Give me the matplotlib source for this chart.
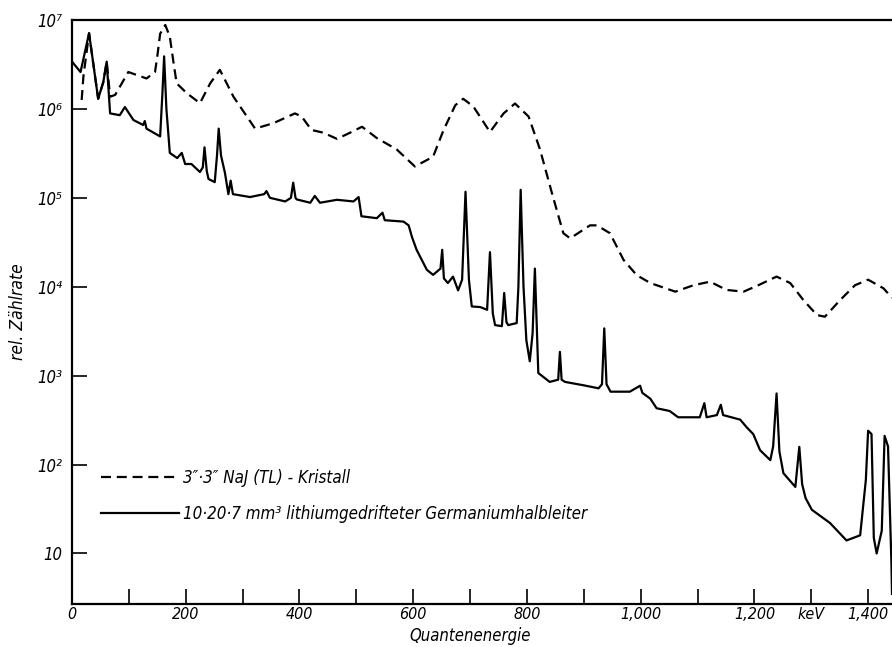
import matplotlib
matplotlib.use("Agg")
import matplotlib.pyplot as plt
from matplotlib.ticker import NullLocator

# ---------------- data ----------------
# Ge(Li) detector spectrum (solid line): energy in keV, relative count rate
ge_energy = [0, 15, 30, 46, 55, 61, 67, 84, 93, 108, 125, 128, 131, 155, 159, 162, 166, 172,
             185, 193, 199, 210, 225, 230, 233, 237, 240, 251, 255, 258, 262, 269, 275, 279, 283,
             313, 338, 342, 348, 375, 385, 389, 393, 395, 419, 427, 436, 466, 495, 504, 509,
             536, 546, 550, 583, 592, 598, 606, 624, 635, 648, 651, 654, 661, 670, 679, 686,
             692, 698, 703, 718, 730, 735, 740, 744, 756, 760, 764, 767, 782, 785, 789, 794,
             799, 805, 810, 814, 818, 820, 840, 855, 858, 861, 867, 899, 926, 932, 936, 940,
             947, 981, 999, 1003, 1017, 1028, 1051, 1066, 1104, 1112, 1116, 1134, 1141, 1145,
             1175, 1187, 1198, 1210, 1228, 1233, 1239, 1244, 1251, 1272, 1279, 1284, 1290,
             1301, 1333, 1362, 1386, 1396, 1400, 1406, 1410, 1415, 1424, 1429, 1435, 1441, 1442]
ge_rate = [3.4e6, 2.6e6, 7.1e6, 1.3e6, 2.0e6, 3.4e6, 8.9e5, 8.5e5, 1.05e6, 7.5e5, 6.6e5, 7.3e5,
           6.0e5, 4.9e5, 1.5e6, 3.9e6, 1.0e6, 3.2e5,
           2.8e5, 3.2e5, 2.4e5, 2.4e5, 1.95e5, 2.2e5, 3.7e5, 2.0e5, 1.63e5, 1.5e5, 3.0e5, 6.0e5,
           3.0e5, 1.9e5, 1.1e5, 1.56e5, 1.1e5,
           1.02e5, 1.1e5, 1.19e5, 1.0e5, 9.1e4, 1.0e5, 1.48e5, 1.0e5, 9.6e4, 8.8e4, 1.05e5,
           8.8e4, 9.5e4, 9.1e4, 1.02e5, 6.2e4,
           5.9e4, 6.8e4, 5.6e4, 5.4e4, 4.9e4, 3.6e4, 2.6e4, 1.55e4, 1.36e4, 1.6e4, 2.6e4,
           1.24e4, 1.1e4, 1.3e4, 9.1e3, 1.2e4,
           1.17e5, 1.2e4, 6.0e3, 5.9e3, 5.5e3, 2.45e4, 5.0e3, 3.7e3, 3.6e3, 8.5e3, 4.0e3,
           3.7e3, 3.9e3, 1.0e4, 1.23e5, 1.0e4,
           2.5e3, 1.45e3, 3.0e3, 1.6e4, 2.5e3, 1.07e3, 8.5e2, 9.0e2, 1.85e3, 9.0e2, 8.5e2,
           7.8e2, 7.2e2, 8.0e2, 3.4e3, 8.0e2,
           6.6e2, 6.6e2, 7.7e2, 6.4e2, 5.5e2, 4.3e2, 4.0e2, 3.4e2, 3.4e2, 4.9e2, 3.4e2, 3.6e2,
           4.7e2, 3.6e2,
           3.2e2, 2.6e2, 2.2e2, 1.45e2, 1.12e2, 1.6e2, 6.3e2, 1.4e2, 80, 56, 1.58e2, 60, 42,
           31, 22, 14, 16, 67, 2.4e2, 2.2e2, 15, 10, 18, 2.1e2, 1.6e2, 7.8, 3.5]

# NaI(Tl) scintillator spectrum (dashed line)
nai_energy = [17, 20, 30, 46, 55, 61, 67, 76, 99, 131, 146, 150, 155, 164, 172, 178, 184, 202,
              225, 243, 260, 284, 322, 354, 392, 404, 421, 442, 466, 489, 510, 536, 571, 603,
              635, 653, 674, 688, 706, 735, 759, 779, 803, 823, 844, 864, 876, 911, 923, 946,
              970, 993, 1017, 1061, 1093, 1122, 1151, 1181, 1207, 1239, 1263, 1286, 1310,
              1324, 1351, 1377, 1400, 1427, 1442]
nai_rate = [1.26e6, 2.3e6, 7.1e6, 1.3e6, 2.0e6, 3.4e6, 1.37e6, 1.44e6, 2.6e6, 2.2e6, 2.6e6,
            3.9e6, 7.0e6, 8.8e6, 6.5e6, 3.5e6, 1.94e6, 1.5e6,
            1.16e6, 1.94e6, 2.75e6, 1.37e6, 6.0e5, 6.9e5, 8.9e5, 8.2e5, 5.8e5, 5.4e5, 4.6e5,
            5.4e5, 6.3e5, 4.7e5, 3.5e5, 2.25e5,
            2.9e5, 5.7e5, 1.1e6, 1.3e6, 1.06e6, 5.5e5, 8.9e5, 1.15e6, 8.2e5, 3.5e5, 1.13e5,
            4.0e4, 3.5e4, 4.9e4, 4.9e4, 4.0e4,
            2.0e4, 1.35e4, 1.1e4, 8.8e3, 1.04e4, 1.14e4, 9.2e3, 8.8e3, 1.04e4, 1.3e4, 1.1e4,
            7.1e3, 4.8e3,
            4.6e3, 7.1e3, 1.04e4, 1.2e4, 9.6e3, 7.5e3]

x_ticks = [0, 100, 200, 300, 400, 500, 600, 700, 800, 900, 1000, 1100, 1200, 1300, 1400]
x_tick_labels = ["0", "", "200", "", "400", "", "600", "", "800", "", "1,000", "", "1,200",
                 "keV", "1,400"]
y_ticks = [10, 1e2, 1e3, 1e4, 1e5, 1e6, 1e7]
y_tick_labels = ["10", "10²", "10³", "10⁴", "10⁵", "10⁶", "10⁷"]

label_nai = "3″·3″ NaJ (TL) - Kristall"
label_ge = "10·20·7 mm³ lithiumgedrifteter Germaniumhalbleiter"

# ---------------- plot ----------------
FONT = dict(family="DejaVu Sans", style="italic", stretch="condensed")
plt.rcParams["font.family"] = "DejaVu Sans"

fig = plt.figure(figsize=(8.92, 6.47), dpi=100)
ax = fig.add_axes([72 / 892, 1 - 604 / 647, 820 / 892, 584 / 647])

ax.plot(nai_energy, nai_rate, color="black", lw=1.6, linestyle=(0, (4.5, 2.6)),
        label=label_nai, solid_joinstyle="round")
ax.plot(ge_energy, ge_rate, color="black", lw=1.6, label=label_ge,
        solid_joinstyle="round")

ax.set_yscale("log")
ax.set_xlim(0, 1442)
ax.set_ylim(2.7, 1e7)
ax.yaxis.set_minor_locator(NullLocator())
ax.xaxis.set_minor_locator(NullLocator())

ax.set_xticks(x_ticks)
ax.set_xticklabels(x_tick_labels, fontsize=11.5, **FONT)
ax.set_yticks(y_ticks)
ax.set_yticklabels(y_tick_labels, fontsize=12, **FONT)
ax.tick_params(axis="x", direction="in", length=11, width=1.2, pad=2.5)
ax.tick_params(axis="y", direction="in", length=11, width=1.2, pad=7)

for s in ["left", "bottom", "top"]:
    ax.spines[s].set_linewidth(1.6)
ax.spines["right"].set_visible(False)

ax.set_xlabel("Quantenenergie", fontsize=12, **FONT)
ax.xaxis.set_label_coords((470 - 72) / 820, -0.0395)
ax.set_ylabel("rel. Zählrate", fontsize=12.5, **FONT)
ax.yaxis.set_label_coords(-(72 - 27) / 820, 0.5)

leg = ax.legend(loc="upper left", bbox_to_anchor=(0.035, 0.231), frameon=False,
                handlelength=4.6, handletextpad=0.25, labelspacing=1.05,
                prop=dict(size=12.2, **FONT), borderpad=0, borderaxespad=0)

fig.savefig("out.png", dpi=100)
